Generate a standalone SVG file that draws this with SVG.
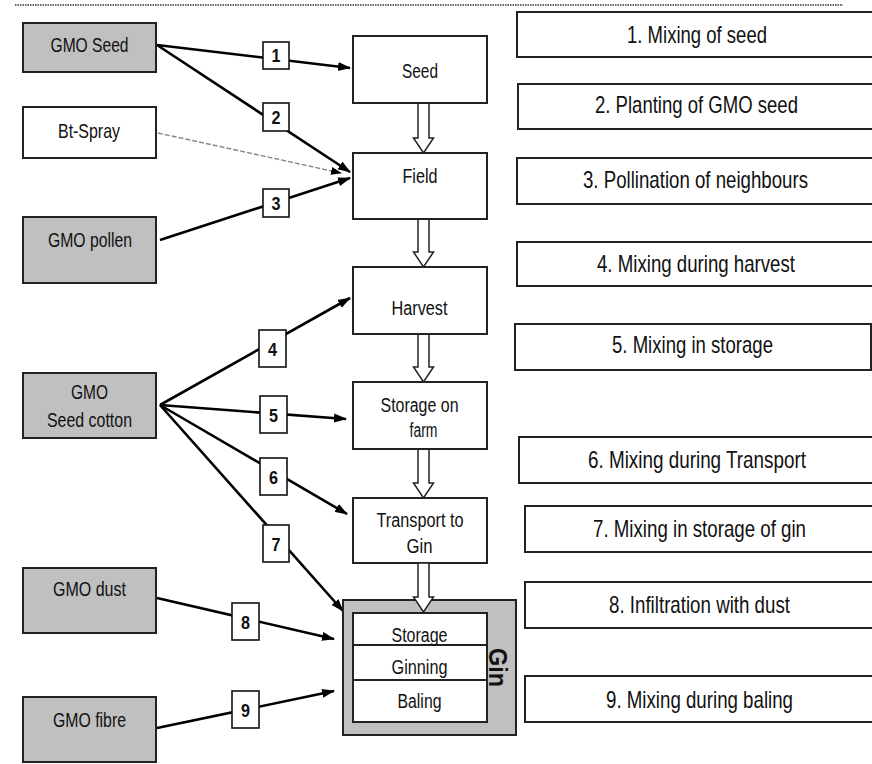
<svg xmlns="http://www.w3.org/2000/svg" width="872" height="764" viewBox="0 0 872 764">
<style>
  .t{font-family:"Liberation Sans",Arial,sans-serif;fill:#111;}
  .gray{fill:#c0c0c0;stroke:#222;stroke-width:2;}
  .white{fill:#fff;stroke:#222;stroke-width:2;}
  .num{fill:#fff;stroke:#111;stroke-width:1.6;}
  .conn{stroke:#000;stroke-width:2.6;fill:none;}
  .hollow{fill:#fff;stroke:#222;stroke-width:1.5;stroke-linejoin:miter;}
  .lt{font-size:21px;text-anchor:middle;}
  .ct{font-size:19.5px;text-anchor:middle;}
  .rt{font-size:24px;text-anchor:middle;}
  .nt{font-size:19px;font-weight:bold;text-anchor:middle;}
</style>
<defs>
  <marker id="ah" markerUnits="userSpaceOnUse" markerWidth="14" markerHeight="10" refX="12" refY="5" orient="auto">
    <path d="M0,0.5 L13,5 L0,9.5 z" fill="#000"/>
  </marker>
  <marker id="ahs" markerUnits="userSpaceOnUse" markerWidth="12" markerHeight="10" refX="10" refY="5" orient="auto">
    <path d="M0,1 L11,5 L0,9 z" fill="#000"/>
  </marker>
</defs>
<rect width="872" height="764" fill="#fff"/>
<line x1="15" y1="5" x2="843" y2="5" stroke="#666" stroke-width="2" stroke-dasharray="1.5 1"/>

<g id="connectors">
  <line class="conn" x1="157" y1="45" x2="350" y2="68" marker-end="url(#ah)"/>
  <line class="conn" x1="157" y1="45" x2="350" y2="172" marker-end="url(#ah)"/>
  <line x1="158" y1="133" x2="341" y2="173" stroke="#888" stroke-width="1.4" stroke-dasharray="5 2" marker-end="url(#ahs)"/>
  <line class="conn" x1="160" y1="240" x2="350" y2="178" marker-end="url(#ah)"/>
  <line class="conn" x1="160" y1="405" x2="350" y2="298" marker-end="url(#ah)"/>
  <line class="conn" x1="160" y1="405" x2="346" y2="419" marker-end="url(#ah)"/>
  <line class="conn" x1="160" y1="405" x2="347" y2="514" marker-end="url(#ah)"/>
  <line class="conn" x1="160" y1="405" x2="343" y2="611" marker-end="url(#ah)"/>
  <line class="conn" x1="157" y1="598" x2="334" y2="639" marker-end="url(#ah)"/>
  <line class="conn" x1="157" y1="728" x2="334" y2="691" marker-end="url(#ah)"/>
</g>

<g id="src-gmo-seed"><rect class="gray" x="23" y="23" width="133" height="49"/><text class="t lt" x="89.5" y="52" textLength="78" lengthAdjust="spacingAndGlyphs">GMO Seed</text></g>
<g id="src-bt-spray"><rect class="white" x="23" y="107" width="133" height="51"/><text class="t lt" x="89" y="138" textLength="62" lengthAdjust="spacingAndGlyphs">Bt-Spray</text></g>
<g id="src-gmo-pollen"><rect class="gray" x="23" y="217" width="133" height="66"/><text class="t lt" x="90" y="247" textLength="84" lengthAdjust="spacingAndGlyphs">GMO pollen</text></g>
<g id="src-gmo-seed-cotton"><rect class="gray" x="23" y="373" width="133" height="65"/><text class="t lt" x="89.5" y="399" textLength="37" lengthAdjust="spacingAndGlyphs">GMO</text><text class="t lt" x="89.5" y="427" textLength="85" lengthAdjust="spacingAndGlyphs">Seed cotton</text></g>
<g id="src-gmo-dust"><rect class="gray" x="23" y="568" width="133" height="65"/><text class="t lt" x="89.5" y="596" textLength="73" lengthAdjust="spacingAndGlyphs">GMO dust</text></g>
<g id="src-gmo-fibre"><rect class="gray" x="23" y="697" width="133" height="65"/><text class="t lt" x="89.5" y="727" textLength="73" lengthAdjust="spacingAndGlyphs">GMO fibre</text></g>

<g id="hollow-arrows">
  <polygon class="hollow" points="418,103 429,103 429,138 433.5,138 423.5,153 413.5,138 418,138"/>
  <polygon class="hollow" points="418,219 429,219 429,252 433.5,252 423.5,267 413.5,252 418,252"/>
  <polygon class="hollow" points="418,334 429,334 429,367 433.5,367 423.5,382 413.5,367 418,367"/>
  <polygon class="hollow" points="418,449 429,449 429,483 433.5,483 423.5,498 413.5,483 418,483"/>
</g>

<g id="step-seed"><rect class="white" x="353" y="36" width="134" height="67"/><text class="t ct" x="420" y="78" textLength="36" lengthAdjust="spacingAndGlyphs">Seed</text></g>
<g id="step-field"><rect class="white" x="353" y="153" width="134" height="66"/><text class="t ct" x="420" y="183" textLength="35" lengthAdjust="spacingAndGlyphs">Field</text></g>
<g id="step-harvest"><rect class="white" x="353" y="267" width="134" height="67"/><text class="t ct" x="419.5" y="315" textLength="56" lengthAdjust="spacingAndGlyphs">Harvest</text></g>
<g id="step-storage-farm"><rect class="white" x="353" y="382" width="134" height="67"/><text class="t ct" x="419.5" y="412" textLength="78" lengthAdjust="spacingAndGlyphs">Storage on</text><text class="t ct" x="423.5" y="437" textLength="28" lengthAdjust="spacingAndGlyphs">farm</text></g>
<g id="step-transport"><rect class="white" x="353" y="498" width="134" height="65"/><text class="t ct" x="420" y="527" textLength="87" lengthAdjust="spacingAndGlyphs">Transport to</text><text class="t ct" x="419.5" y="553" textLength="26" lengthAdjust="spacingAndGlyphs">Gin</text></g>

<g id="gin">
  <rect class="gray" x="343" y="600" width="173" height="135"/>
  <rect class="white" x="353" y="613" width="134" height="109"/>
  <line x1="353" y1="645" x2="487" y2="645" stroke="#222" stroke-width="2"/>
  <line x1="353" y1="680" x2="487" y2="680" stroke="#222" stroke-width="2"/>
  <text class="t ct" x="419.5" y="642" textLength="56" lengthAdjust="spacingAndGlyphs">Storage</text>
  <text class="t ct" x="419.5" y="674" textLength="56" lengthAdjust="spacingAndGlyphs">Ginning</text>
  <text class="t ct" x="419.5" y="708" textLength="44" lengthAdjust="spacingAndGlyphs">Baling</text>
  <text class="t" x="0" y="0" transform="translate(489,648) rotate(90)" font-size="25" font-weight="bold" textLength="39" lengthAdjust="spacingAndGlyphs">Gin</text>
</g>
<polygon class="hollow" points="418,563 429,563 429,597 433.5,597 423.5,612 413.5,597 418,597"/>

<g id="labels">
  <g id="n1"><rect class="num" x="263" y="42" width="26" height="27"/><text class="t nt" x="276" y="62" textLength="9" lengthAdjust="spacingAndGlyphs">1</text></g>
  <g id="n2"><rect class="num" x="263" y="103" width="26" height="28"/><text class="t nt" x="276" y="124" textLength="9" lengthAdjust="spacingAndGlyphs">2</text></g>
  <g id="n3"><rect class="num" x="263" y="189" width="26" height="28"/><text class="t nt" x="276" y="210" textLength="9" lengthAdjust="spacingAndGlyphs">3</text></g>
  <g id="n4"><rect class="num" x="259" y="330" width="27" height="37"/><text class="t nt" x="272.5" y="356" textLength="9" lengthAdjust="spacingAndGlyphs">4</text></g>
  <g id="n5"><rect class="num" x="260" y="396" width="27" height="37"/><text class="t nt" x="273.5" y="422" textLength="9" lengthAdjust="spacingAndGlyphs">5</text></g>
  <g id="n6"><rect class="num" x="260" y="458" width="27" height="37"/><text class="t nt" x="273.5" y="484" textLength="9" lengthAdjust="spacingAndGlyphs">6</text></g>
  <g id="n7"><rect class="num" x="263" y="525" width="26" height="37"/><text class="t nt" x="276" y="551" textLength="9" lengthAdjust="spacingAndGlyphs">7</text></g>
  <g id="n8"><rect class="num" x="232" y="603" width="27" height="37"/><text class="t nt" x="245.5" y="629" textLength="9" lengthAdjust="spacingAndGlyphs">8</text></g>
  <g id="n9"><rect class="num" x="232" y="691" width="27" height="37"/><text class="t nt" x="245.5" y="717" textLength="9" lengthAdjust="spacingAndGlyphs">9</text></g>
</g>

<g id="r1"><rect class="white" x="517" y="12" width="380" height="45"/><text class="t rt" x="697" y="43" textLength="140" lengthAdjust="spacingAndGlyphs">1. Mixing of seed</text></g>
<g id="r2"><rect class="white" x="518" y="84" width="380" height="45"/><text class="t rt" x="696.5" y="113" textLength="203" lengthAdjust="spacingAndGlyphs">2. Planting of GMO seed</text></g>
<g id="r3"><rect class="white" x="517" y="158" width="380" height="46"/><text class="t rt" x="695.5" y="188" textLength="225" lengthAdjust="spacingAndGlyphs">3. Pollination of neighbours</text></g>
<g id="r4"><rect class="white" x="517" y="242" width="380" height="44"/><text class="t rt" x="696" y="272" textLength="198" lengthAdjust="spacingAndGlyphs">4. Mixing during harvest</text></g>
<g id="r5"><rect class="white" x="515" y="324" width="356" height="46"/><text class="t rt" x="692.5" y="353" textLength="161" lengthAdjust="spacingAndGlyphs">5. Mixing in storage</text></g>
<g id="r6"><rect class="white" x="519" y="437" width="380" height="46"/><text class="t rt" x="697" y="468" textLength="218" lengthAdjust="spacingAndGlyphs">6. Mixing during Transport</text></g>
<g id="r7"><rect class="white" x="525" y="506" width="380" height="46"/><text class="t rt" x="699.5" y="537" textLength="213" lengthAdjust="spacingAndGlyphs">7. Mixing in storage of gin</text></g>
<g id="r8"><rect class="white" x="525" y="582" width="380" height="46"/><text class="t rt" x="699.5" y="613" textLength="181" lengthAdjust="spacingAndGlyphs">8. Infiltration with dust</text></g>
<g id="r9"><rect class="white" x="525" y="676" width="380" height="46"/><text class="t rt" x="699.5" y="708" textLength="187" lengthAdjust="spacingAndGlyphs">9. Mixing during baling</text></g>
</svg>
